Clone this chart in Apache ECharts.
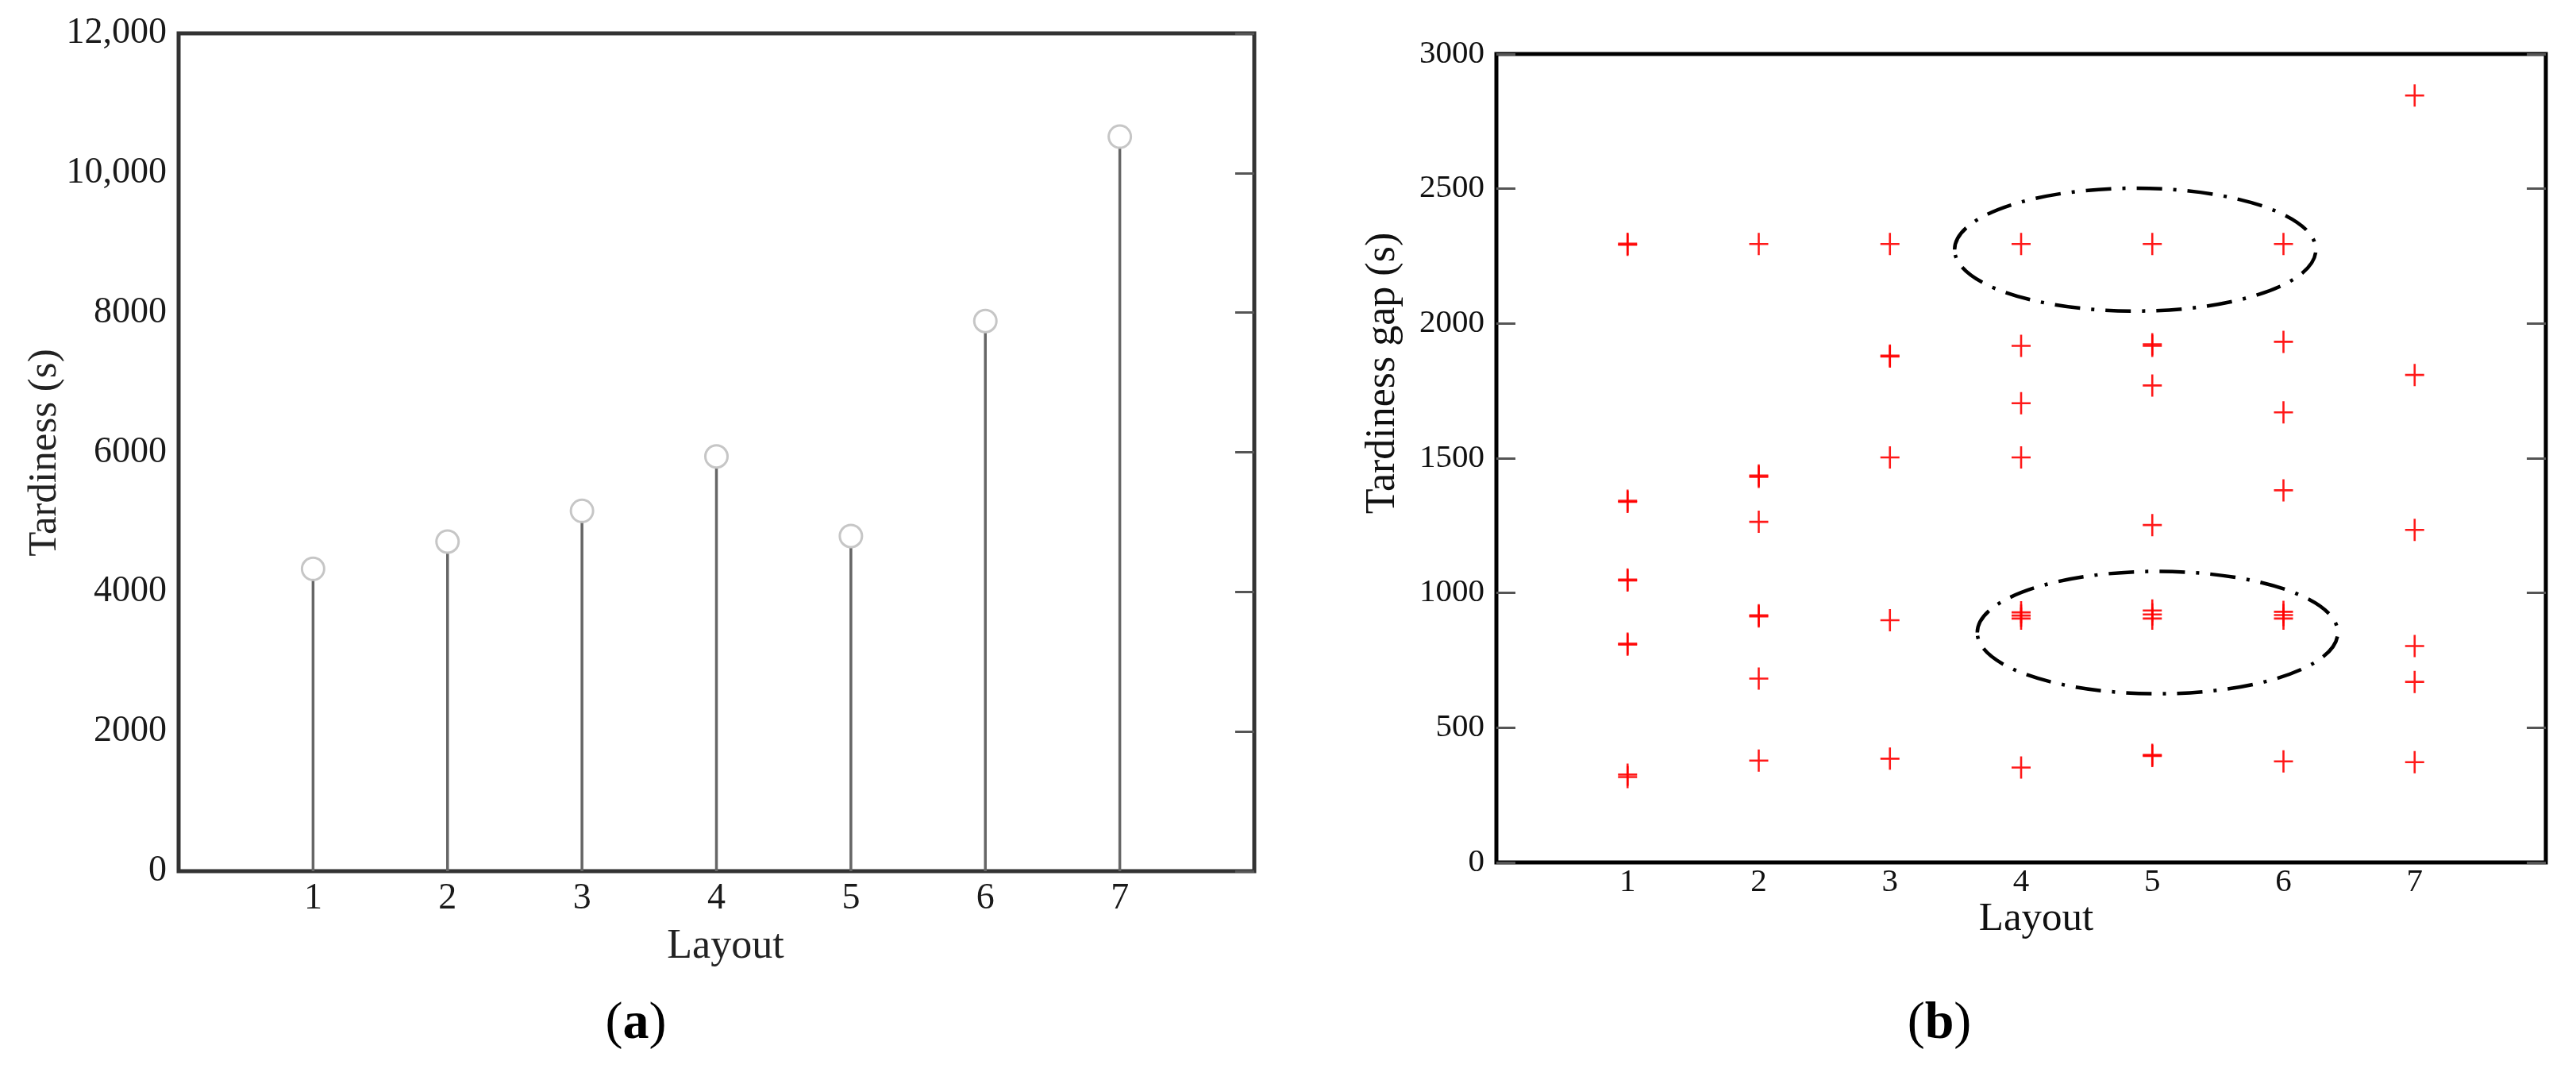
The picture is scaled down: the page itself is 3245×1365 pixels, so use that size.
<!DOCTYPE html>
<html>
<head>
<meta charset="utf-8">
<title>Tardiness by layout</title>
<script src="https://cdn.jsdelivr.net/npm/echarts@6.0.0/dist/echarts.min.js"></script>
<style>
  html, body { margin: 0; padding: 0; background: #fff; }
  #chart { width: 3245px; height: 1365px; }
</style>
</head>
<body>
<div id="chart"></div>
<script>
// ---- data ----
const layouts = [1, 2, 3, 4, 5, 6, 7]
const tardiness = [4330, 4720, 5160, 5940, 4800, 7880, 10520]
const tardinessTicks = ['0', '2000', '4000', '6000', '8000', '10,000', '12,000']

// tardiness gap points per layout (near-duplicates show as bold crosses)
const gapL1 = [2296, 2292, 1342, 1338, 1050, 1046, 812, 808, 326, 317]
const gapL2 = [2295, 1436, 1431, 1264, 917, 913, 682, 378]
const gapL3 = [2295, 1881, 1877, 1503, 899, 385]
const gapL4 = [2295, 1917, 1704, 1503, 928, 916, 905, 352]
const gapL5 = [2295, 1923, 1917, 1770, 1252, 935, 920, 905, 399, 395]
const gapL6 = [2295, 1932, 1670, 1381, 930, 918, 905, 375]
const gapL7 = [2846, 1809, 1234, 803, 670, 372]
const gapTicks = ['0', '500', '1000', '1500', '2000', '2500', '3000']

// dash-dot ellipses: centre (layout, gap) and radii in the same units
const ellipseCenters = [[4.87, 2274], [5.04, 853]]
const ellipseRadii = [[1.377, 228], [1.374, 227]]

// ---- helpers ----
const SERIF = '"Liberation Serif", "Times New Roman", serif'
const gapByLayout = [gapL1, gapL2, gapL3, gapL4, gapL5, gapL6, gapL7]
const gapPoints = []
gapByLayout.forEach((vals, i) => vals.forEach(v => gapPoints.push([layouts[i], v])))
const stemData = layouts.map((l, i) => [l, tardiness[i]])
const ellipseData = ellipseCenters.map((c, i) => [c[0], c[1], ellipseRadii[i][0], ellipseRadii[i][1]])

const layoutLabel = v => (layouts.indexOf(v) >= 0 ? String(v) : '')
const crossPath = 'path://M10.7,0 H13.3 V28 H10.7 Z M0,12.7 H24 V15.3 H0 Z'

const hidden = { show: false }

function xAxisFor(gridIndex, fontSize, color, margin) {
  return {
    gridIndex,
    type: 'value',
    min: 0,
    max: 8,
    interval: 1,
    axisLine: hidden,
    axisTick: hidden,
    splitLine: hidden,
    axisLabel: { formatter: layoutLabel, fontFamily: SERIF, fontSize, color, margin }
  }
}

function yAxisFor(gridIndex, max, interval, ticks, fontSize, color, tickColor, leftTicks) {
  return [
    {
      gridIndex,
      type: 'value',
      min: 0,
      max,
      interval,
      axisLine: hidden,
      axisTick: leftTicks
        ? { show: true, inside: true, length: 24, lineStyle: { color: tickColor, width: 3 } }
        : hidden,
      splitLine: hidden,
      axisLabel: {
        formatter: v => ticks[Math.round(v / interval)],
        fontFamily: SERIF,
        fontSize,
        color,
        margin: 15
      }
    },
    {
      gridIndex,
      type: 'value',
      position: 'right',
      min: 0,
      max,
      interval,
      axisLine: hidden,
      axisTick: { show: true, inside: true, length: 24, lineStyle: { color: tickColor, width: 3 } },
      splitLine: hidden,
      axisLabel: hidden
    }
  ]
}

const chart = echarts.init(document.getElementById('chart'))

chart.setOption({
  backgroundColor: '#fff',
  animation: false,
  grid: [
    { left: 225, top: 42, width: 1355, height: 1055, show: true, borderColor: '#333', borderWidth: 5 },
    { left: 1885, top: 68, width: 1322, height: 1018, show: true, borderColor: '#000', borderWidth: 5 }
  ],
  xAxis: [xAxisFor(0, 46, '#1a1a1a', 12), xAxisFor(1, 41, '#111', 5)],
  yAxis: [
    ...yAxisFor(0, 12000, 2000, tardinessTicks, 46, '#1a1a1a', '#555', false),
    ...yAxisFor(1, 3000, 500, gapTicks, 41, '#111', '#555', true)
  ],
  graphic: [
    { type: 'text', x: 57, y: 570, rotation: Math.PI / 2,
      style: { text: 'Tardiness (s)', font: '51px ' + SERIF, fill: '#222', align: 'center', verticalAlign: 'middle' } },
    { type: 'text', x: 914, y: 1192,
      style: { text: 'Layout', font: '52px ' + SERIF, fill: '#222', align: 'center', verticalAlign: 'middle' } },
    { type: 'text', x: 801, y: 1290,
      style: { text: '{p|(}{b|a}{p|)}', align: 'center', verticalAlign: 'middle',
        rich: { p: { font: '66px ' + SERIF, fill: '#000' }, b: { font: 'bold 66px ' + SERIF, fill: '#000' } } } },
    { type: 'text', x: 1742, y: 470, rotation: Math.PI / 2,
      style: { text: 'Tardiness gap (s)', font: '52px ' + SERIF, fill: '#111', align: 'center', verticalAlign: 'middle' } },
    { type: 'text', x: 2565, y: 1158,
      style: { text: 'Layout', font: '51px ' + SERIF, fill: '#111', align: 'center', verticalAlign: 'middle' } },
    { type: 'text', x: 2443, y: 1290,
      style: { text: '{p|(}{b|b}{p|)}', align: 'center', verticalAlign: 'middle',
        rich: { p: { font: '66px ' + SERIF, fill: '#000' }, b: { font: 'bold 66px ' + SERIF, fill: '#000' } } } }
  ],
  series: [
    {
      name: 'stems',
      type: 'custom',
      xAxisIndex: 0,
      yAxisIndex: 0,
      data: stemData,
      renderItem: (params, api) => {
        const top = api.coord([api.value(0), api.value(1)])
        const base = api.coord([api.value(0), 0])
        return {
          type: 'line',
          shape: { x1: base[0], y1: base[1], x2: top[0], y2: top[1] },
          style: { stroke: '#666', lineWidth: 3.5 }
        }
      },
      z: 2
    },
    {
      name: 'Tardiness',
      type: 'scatter',
      xAxisIndex: 0,
      yAxisIndex: 0,
      data: stemData,
      symbol: 'circle',
      symbolSize: 28,
      itemStyle: { color: '#fff', borderColor: '#c6c6c6', borderWidth: 3, opacity: 1 },
      z: 3
    },
    {
      name: 'Tardiness gap',
      type: 'scatter',
      xAxisIndex: 1,
      yAxisIndex: 2,
      data: gapPoints,
      symbol: crossPath,
      symbolSize: [24, 28],
      itemStyle: { color: '#ff0000', opacity: 0.9 },
      z: 3
    },
    {
      name: 'groups',
      type: 'custom',
      xAxisIndex: 1,
      yAxisIndex: 2,
      data: ellipseData,
      renderItem: (params, api) => {
        const c = api.coord([api.value(0), api.value(1)])
        const edge = api.coord([api.value(0) + api.value(2), api.value(1) + api.value(3)])
        return {
          type: 'ellipse',
          shape: { cx: c[0], cy: c[1], rx: edge[0] - c[0], ry: c[1] - edge[1] },
          style: { fill: 'none', stroke: '#000', lineWidth: 4.5, lineDash: [32, 14, 4, 14] }
        }
      },
      z: 4
    }
  ]
})

window.addEventListener('resize', () => chart.resize())
</script>
</body>
</html>
